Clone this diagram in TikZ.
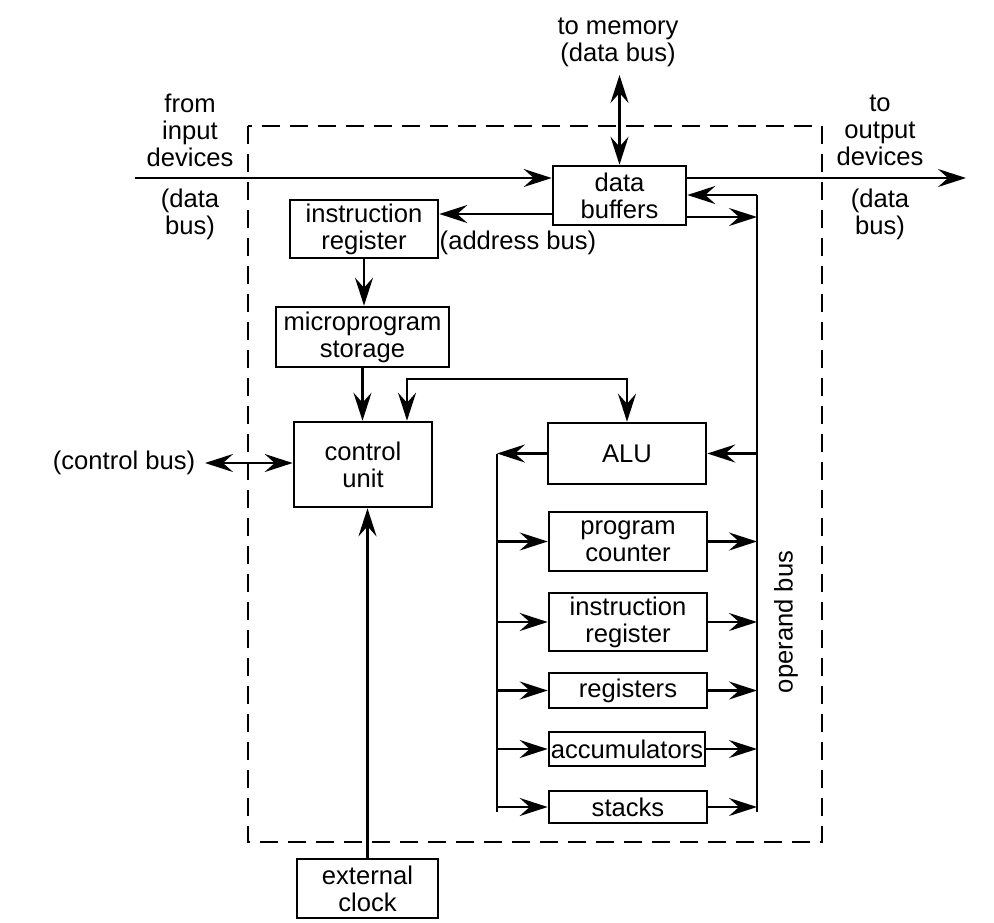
\documentclass[tikz,border=0pt]{standalone}
\usepackage{fontspec}
\setmainfont{Liberation Sans}
\usetikzlibrary{arrows.meta}
\begin{document}
\begin{tikzpicture}[x=1pt,y=-1pt,
  txt/.style={font=\fontsize{25.6}{27}\selectfont, align=center, inner sep=0pt},
  blk/.style={txt, draw, line width=2.6pt, minimum width=#1},
  ln/.style={line width=2.6pt},
  arr/.style={ln, -{Stealth[length=28pt,width=18pt,inset=10pt]}},
  darr/.style={ln, {Stealth[length=28pt,width=18pt,inset=10pt]}-{Stealth[length=28pt,width=18pt,inset=10pt]}}
]
\useasboundingbox (0,0) rectangle (994,922);
\fill[white] (0,0) rectangle (994,922);

% dashed CPU boundary
\draw[line width=2.4pt, dash pattern=on 18pt off 10pt] (248,126) rectangle (822,842);

% blocks
\node[blk=133pt, minimum height=59pt] (buf) at (619.5,195.5) {data\\buffers};
\node[blk=148pt, minimum height=58pt] (ir1) at (364,229) {instruction\\register};
\node[blk=173pt, minimum height=60pt] (mp) at (362.5,337) {microprogram\\storage};
\node[blk=138pt, minimum height=85pt] (cu) at (363,464.5) {control\\unit};
\node[blk=158pt, minimum height=61pt] (alu) at (627,453.5) {ALU};
\node[blk=158pt, minimum height=59pt] (pc) at (628,541.5) {program\\counter};
\node[blk=158pt, minimum height=58pt] (ir2) at (628,622) {instruction\\register};
\node[blk=158pt, minimum height=35pt] (reg) at (628,690.5) {registers};
\node[blk=156pt, minimum height=34pt] (acc) at (627,749) {accumulators};
\node[blk=158pt, minimum height=32pt] (stk) at (628,807) {stacks};
\node[blk=141pt, minimum height=59pt] (clk) at (367.5,888.5) {external\\clock};

% labels
\node[txt] (lmem) at (618,42) {to memory\\(data bus)};
\node[txt] (lin) at (190,130) {from\\input\\devices};
\node[txt] (lindb) at (190,214) {(data\\bus)};
\node[txt] (lout) at (880,130) {to\\output\\devices};
\node[txt] (loutdb) at (880,214) {(data\\bus)};
\node[txt] (laddr) at (518,243) {(address bus)};
\node[txt] (lctl) at (124,463) {(control bus)};
\node[txt, rotate=90] (lop) at (786,622) {operand bus};

% coordinates
\coordinate (inL) at (135,178);
\coordinate (outR) at (966,178);
\coordinate (mem) at (619.5,75);
\coordinate (ya) at (0,214);
\coordinate (yb1) at (0,195);
\coordinate (yb2) at (0,217);
\coordinate (cc) at (407,379);
\coordinate (cb) at (205,463);
\coordinate (lbT) at (497,453.5);
\coordinate (lbB) at (497,812);
\coordinate (obT) at (757,195);
\coordinate (obB) at (757,812);

% data bus through buffers
\draw[arr] (inL) -- (inL -| buf.west);
\draw[arr] (outR -| buf.east) -- (outR);
\draw[darr] (mem) -- (buf.north);
\draw[arr] (buf.west |- ya) -- (ir1.east |- ya);

% control path
\draw[arr] (ir1.south) -- (ir1.south |- mp.north);
\draw[arr] (mp.south) -- (mp.south |- cu.north);
\draw[darr] (cu.north -| cc) -- (cc) -| (alu.north);
\draw[darr] (cb) -- (cu.west |- cb);
\draw[arr] (clk.north) -- (clk.north |- cu.south);

% buses
\draw[ln] (lbT) -- (lbB);
\draw[ln] (obT) -- (obB);
\draw[arr] (obT) -- (obT -| buf.east);
\draw[arr] (buf.east |- yb2) -- (obT |- yb2);
\draw[arr] (alu.west) -- (alu.west -| lbT);
\draw[arr] (alu.east -| obT) -- (alu.east);
\foreach \b in {pc,ir2,reg,acc,stk}{
  \draw[arr] (\b.west -| lbT) -- (\b.west);
  \draw[arr] (\b.east) -- (\b.east -| obT);
}
\end{tikzpicture}
\end{document}
